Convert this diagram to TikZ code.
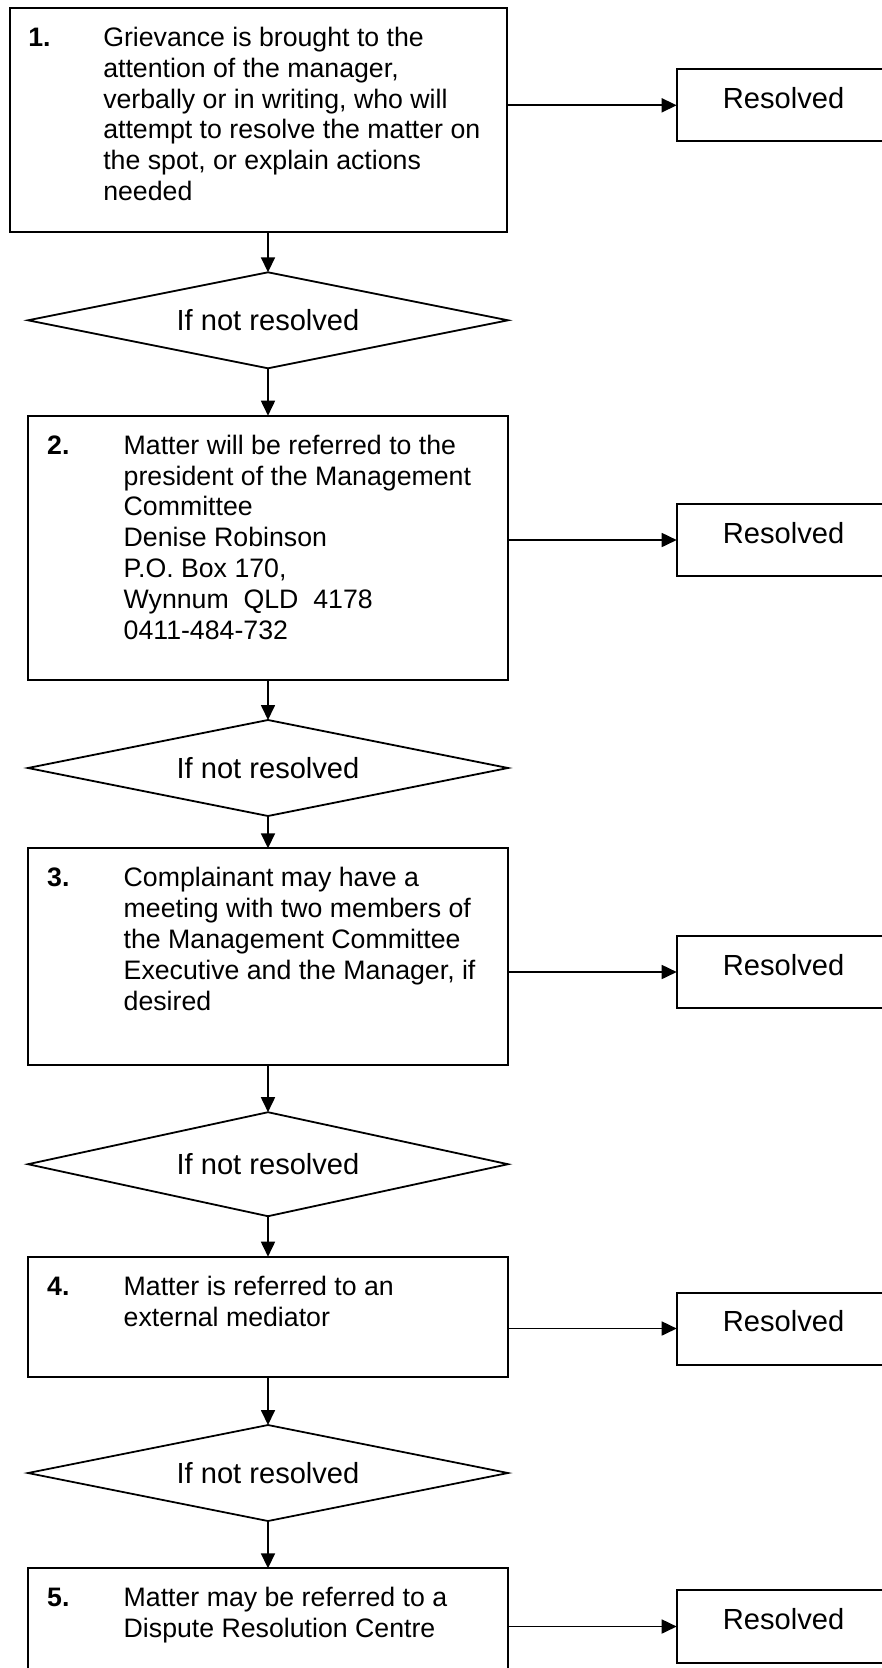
\documentclass[tikz,border=0pt]{standalone}
\usepackage{fontspec}
\setmainfont{Liberation Sans}
\usetikzlibrary{arrows.meta}
\begin{document}
\begin{tikzpicture}[x=1pt,y=-1pt,
  stepbox/.style={draw, line width=2pt, inner sep=0pt, outer sep=0pt, anchor=north west, minimum width=480pt},
  resbox/.style={draw, line width=2pt, inner sep=0pt, outer sep=0pt, anchor=north west, minimum width=260pt, minimum height=72pt},
  decframe/.style={inner sep=0pt, outer sep=0pt, minimum width=480pt, font=\fontsize{29.1}{33}\selectfont},
  decline/.style={line width=1.8pt, line join=miter},
  numtext/.style={anchor=base west, inner sep=0pt, font=\fontsize{26.7}{30.8}\selectfont\bfseries},
  bodytext/.style={anchor=base west, inner sep=0pt, font=\fontsize{26.7}{30.8}\selectfont},
  restext/.style={anchor=base west, inner sep=0pt, font=\fontsize{29.1}{33}\selectfont},
  flow/.style={line width=1.7pt, -{Triangle[length=15pt,width=14pt]}}
]
\useasboundingbox (0,0) rectangle (882,1668);
\clip (0,0) rectangle (882,1668);

% step boxes
\node[stepbox, minimum width=497.4pt, minimum height=224pt] (b1) at (9.6,8) {};
\node[stepbox, minimum height=264.3pt] (b2) at (28,415.7) {};
\node[stepbox, minimum height=216.7pt] (b3) at (28,848.3) {};
\node[stepbox, minimum height=120pt] (b4) at (28,1256.7) {};
\node[stepbox, minimum height=150pt] (b5) at (28,1568.3) {};

% decisions
\node[decframe, minimum height=96pt] (d1) at (268,320.3) {If not resolved};
\node[decframe, minimum height=96pt] (d2) at (268,768) {If not resolved};
\node[decframe, minimum height=104pt] (d3) at (268,1164.2) {If not resolved};
\node[decframe, minimum height=96pt] (d4) at (268,1473) {If not resolved};
\foreach \d in {d1,d2,d3,d4}{
  \draw[decline] (\d.north) -- (\d.east) -- (\d.south) -- (\d.west) -- cycle;
}

% resolved boxes
\node[resbox] (r1) at (676.7,69.3) {};
\node[resbox] (r2) at (676.7,504) {};
\node[resbox] (r3) at (676.7,936) {};
\node[resbox] (r4) at (676.7,1292.5) {};
\node[resbox, minimum height=73pt] (r5) at (676.7,1590) {};
\foreach \r in {r1,r2,r3,r4,r5}{
  \node[restext] (\r t) at ([shift={(46,39)}]\r.north west) {Resolved};
}

% texts
\node[numtext] (n1) at ([shift={(18.5,38.5)}]b1.north west) {1.};
\node[bodytext] (t1) at ([shift={(93.5,38.5)}]b1.north west) {\parbox[t]{500pt}{\raggedright
Grievance is brought to the\\
attention of the manager,\\
verbally or in writing, who will\\
attempt to resolve the matter on\\
the spot, or explain actions\\
needed}};

\node[numtext] (n2) at ([shift={(19,38.5)}]b2.north west) {2.};
\node[bodytext] (t2) at ([shift={(95.5,38.5)}]b2.north west) {\parbox[t]{500pt}{\raggedright
Matter will be referred to the\\
president of the Management\\
Committee\\
Denise Robinson\\
P.O. Box 170,\\
Wynnum\ \ QLD\ \ 4178\\
0411-484-732}};

\node[numtext] (n3) at ([shift={(19,38.5)}]b3.north west) {3.};
\node[bodytext] (t3) at ([shift={(95.5,38.5)}]b3.north west) {\parbox[t]{500pt}{\raggedright
Complainant may have a\\
meeting with two members of\\
the Management Committee\\
Executive and the Manager, if\\
desired}};

\node[numtext] (n4) at ([shift={(19,38.5)}]b4.north west) {4.};
\node[bodytext] (t4) at ([shift={(95.5,38.5)}]b4.north west) {\parbox[t]{500pt}{\raggedright
Matter is referred to an\\
external mediator}};

\node[numtext] (n5) at ([shift={(19,38.5)}]b5.north west) {5.};
\node[bodytext] (t5) at ([shift={(95.5,38.5)}]b5.north west) {\parbox[t]{500pt}{\raggedright
Matter may be referred to a\\
Dispute Resolution Centre}};

% vertical connectors
\draw[flow] (d1.north |- b1.south) -- (d1.north);
\draw[flow] (d1.south) -- (d1.south |- b2.north);
\draw[flow] (d2.north |- b2.south) -- (d2.north);
\draw[flow] (d2.south) -- (d2.south |- b3.north);
\draw[flow] (d3.north |- b3.south) -- (d3.north);
\draw[flow] (d3.south) -- (d3.south |- b4.north);
\draw[flow] (d4.north |- b4.south) -- (d4.north);
\draw[flow] (d4.south) -- (d4.south |- b5.north);

% horizontal connectors
\draw[flow] (r1.west -| b1.east) -- (r1.west);
\draw[flow] (r2.west -| b2.east) -- (r2.west);
\draw[flow] (r3.west -| b3.east) -- (r3.west);
\draw[flow] (r4.west -| b4.east) -- (r4.west);
\draw[flow] (r5.west -| b5.east) -- (r5.west);
\end{tikzpicture}
\end{document}
